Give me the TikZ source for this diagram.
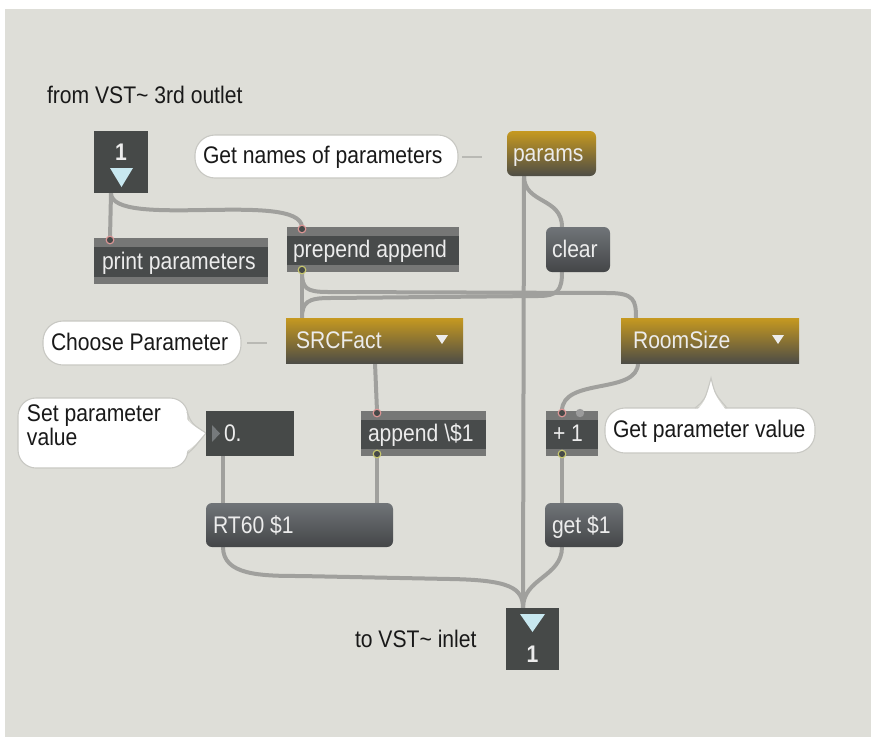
\documentclass[tikz,border=0pt]{standalone}
\usepackage{fontspec}
\setmainfont{Liberation Sans}[FakeStretch=0.88]
\usetikzlibrary{calc}
\definecolor{bgc}{RGB}{222,222,216}
\definecolor{cordc}{RGB}{160,160,157}
\definecolor{objdark}{RGB}{72,75,75}
\definecolor{band}{RGB}{118,119,118}
\definecolor{gold}{RGB}{198,153,32}
\definecolor{golddark}{RGB}{78,77,70}
\definecolor{msgtop}{RGB}{112,116,120}
\definecolor{msgbot}{RGB}{68,70,72}
\definecolor{iodark}{RGB}{70,73,72}
\definecolor{tri}{RGB}{200,232,240}
\definecolor{txtw}{RGB}{236,236,236}
\definecolor{bubline}{RGB}{200,200,195}
\definecolor{inpink}{RGB}{222,150,150}
\definecolor{outyel}{RGB}{200,200,110}
\definecolor{ptrc}{RGB}{185,185,180}
\definecolor{numtri}{RGB}{118,122,124}
\definecolor{inbump}{RGB}{155,155,155}
\definecolor{txtb}{RGB}{25,25,25}
\newcommand\lbx[3]{\makebox[#1pt][l]{\hspace*{#2pt}#3}}
\pgfdeclarelayer{back}
\pgfdeclarelayer{cords}
\pgfsetlayers{back,cords,main}
\begin{document}
\begin{tikzpicture}[x=1pt,y=-1pt,
  every node/.style={font=\fontsize{24}{28}\selectfont, inner sep=0pt, outer sep=0pt},
  bx/.style={text height=16pt, text depth=0pt, anchor=north west, text=txtw},
  objb/.style={bx, fill=band, minimum height=45pt,
    path picture={\fill[objdark] ([yshift=-9pt]path picture bounding box.north west) rectangle ([yshift=7pt]path picture bounding box.south east);}},
  msgb/.style={bx, rounded corners=6pt, top color=msgtop, bottom color=msgbot},
  goldb/.style={bx, rounded corners=6pt, top color=gold, bottom color=golddark},
  menub/.style={bx, minimum height=45pt, top color=gold, bottom color=golddark},
  iobox/.style={anchor=north west, fill=iodark, text=txtw, minimum width=#1},
  bub/.style={anchor=north west, fill=white, draw=bubline, line width=1.1pt, rounded corners=20pt, text=txtb, text height=14pt, text depth=0pt},
  cmt/.style={anchor=base west, text=txtb},
  cord/.style={draw=cordc, line width=4pt},
  ptr/.style={draw=ptrc, line width=2pt},
  inring/.style={draw=inpink, fill=iodark, line width=1.1pt},
  outring/.style={draw=outyel, fill=iodark, line width=1.1pt}
]
\useasboundingbox (0,0) rectangle (871,737);
\begin{pgfonlayer}{back}
\fill[bgc] (5,9) rectangle (871,737);
\end{pgfonlayer}

% comments
\node[cmt] (fromt) at (47,103) {from VST\textasciitilde{} 3rd outlet};
\node[cmt] (tot) at (355,647) {to VST\textasciitilde{} inlet};

% inlet / outlet boxes
\node[iobox=54pt, text height=29pt, text depth=33pt] (inl) at (94,131) {\bfseries 1};
\fill[tri] ([shift={(16,37)}]inl.north west) -- ([shift={(39,37)}]inl.north west) -- ([shift={(27.5,56)}]inl.north west) -- cycle;
\node[iobox=53pt, text height=54pt, text depth=8pt] (outl) at (506,608) {\bfseries 1};
\fill[tri] ([shift={(14,6)}]outl.north west) -- ([shift={(39,6)}]outl.north west) -- ([shift={(26.5,24)}]outl.north west) -- cycle;

% bubbles
\node[bub, minimum height=43pt] (gnm) at (195,135) {\lbx{263}{8}{Get names of parameters}};
\node[bub, minimum height=44pt] (chs) at (43,321) {\lbx{198}{8}{Choose Parameter}};
\node[bub, minimum height=45pt] (gpv) at (605,408) {\lbx{210}{8}{Get parameter value}};
\node[bub, minimum height=70pt, rounded corners=18pt, text height=0pt, text depth=0pt] (spv) at (18,398)
  {\lbx{170}{9}{\rlap{\raisebox{12pt}{Set parameter}}\raisebox{-12pt}{value}}};
% bubble tails
\fill[white] ([shift={(-6,14)}]spv.north east) .. controls ([shift={(2,26)}]spv.north east) .. (206,433)
  .. controls ([shift={(4,-20)}]spv.south east) .. ([shift={(-6,-14)}]spv.south east) -- cycle;
\draw[bubline, line width=1.1pt] ([shift={(-1,14)}]spv.north east) .. controls ([shift={(4,26)}]spv.north east) .. (206,433)
  .. controls ([shift={(6,-20)}]spv.south east) .. ([shift={(-1,-14)}]spv.south east);
\fill[white] ([shift={(88,6)}]gpv.north west) .. controls ([shift={(100,-6)}]gpv.north west) .. (711,378)
  .. controls ([shift={(110,-12)}]gpv.north west) .. ([shift={(124,6)}]gpv.north west) -- cycle;
\draw[bubline, line width=1.1pt] ([shift={(90,0)}]gpv.north west) .. controls ([shift={(100,-8)}]gpv.north west) .. (711,378)
  .. controls ([shift={(110,-14)}]gpv.north west) .. ([shift={(122,0)}]gpv.north west);

% objects
\node[goldb, minimum height=45pt] (prm) at (507,131) {\lbx{89}{6}{params}};
\node[msgb, minimum height=45pt] (clr) at (546,227) {\lbx{64}{6}{clear}};
\node[objb, minimum height=46pt] (prt) at (94,238) {\lbx{174}{8}{print parameters}};
\node[objb] (ppd) at (287,227) {\lbx{172}{6}{prepend append}};
\node[menub] (src) at (286,318) {\lbx{177}{10}{SRCFact}};
\node[menub] (rms) at (621,318) {\lbx{178}{12}{RoomSize}};
\fill[txtw] ([shift={(-27,17)}]src.north east) -- ([shift={(-15,17)}]src.north east) -- ([shift={(-21,26)}]src.north east) -- cycle;
\fill[txtw] ([shift={(-27,17)}]rms.north east) -- ([shift={(-15,17)}]rms.north east) -- ([shift={(-21,26)}]rms.north east) -- cycle;
\node[bx, fill=iodark, minimum height=45pt] (num) at (206,411) {\lbx{88}{18}{0.}};
\fill[numtri] ([shift={(6,14)}]num.north west) -- ([shift={(14,22.5)}]num.north west) -- ([shift={(6,31)}]num.north west) -- cycle;
\node[objb] (apd) at (361,411) {\lbx{125}{7}{append \textbackslash\$1}};
\node[objb] (pl1) at (546,411) {\lbx{52}{7}{+ 1}};
\node[msgb, minimum height=44pt] (rt) at (206,503) {\lbx{187}{7}{RT60 \$1}};
\node[msgb, minimum height=44pt] (get) at (545,503) {\lbx{78}{7}{get \$1}};

% ports
\coordinate (inlO) at ([xshift=17pt]inl.south west);
\coordinate (outlI) at ([xshift=17pt]outl.north west);
\coordinate (prmO) at ([xshift=17pt]prm.south west);
\coordinate (clrI) at ([xshift=16pt]clr.north west);
\coordinate (clrO) at ([xshift=16pt]clr.south west);
\coordinate (prtI) at ([xshift=16pt]prt.north west);
\coordinate (ppdI) at ([xshift=15pt]ppd.north west);
\coordinate (ppdO) at ([xshift=15pt]ppd.south west);
\coordinate (srcI) at ([xshift=16pt]src.north west);
\coordinate (srcO) at ([xshift=89pt]src.south west);
\coordinate (rmsI) at ([xshift=15pt]rms.north west);
\coordinate (rmsO) at ([xshift=17pt]rms.south west);
\coordinate (numO) at ([xshift=17pt]num.south west);
\coordinate (apdI) at ([xshift=16pt]apd.north west);
\coordinate (apdO) at ([xshift=16pt]apd.south west);
\coordinate (pl1I) at ([xshift=16pt]pl1.north west);
\coordinate (pl1O) at ([xshift=16pt]pl1.south west);
\coordinate (pl1R) at ([xshift=34pt]pl1.north west);
\coordinate (rtI) at ([xshift=17pt]rt.north west);
\coordinate (rtI2) at ([xshift=171pt]rt.north west);
\coordinate (rtO) at ([xshift=17pt]rt.south west);
\coordinate (getI) at ([xshift=17pt]get.north west);
\coordinate (getO) at ([xshift=17pt]get.south west);
\coordinate (gnmP) at ([xshift=-25pt]prm.west |- gnm.east);
\coordinate (chsP) at ([xshift=-19pt]src.west |- chs.east);

% cords
\begin{pgfonlayer}{cords}
\draw[ptr] ([xshift=4pt]gnm.east) -- (gnmP);
\draw[ptr] ([xshift=6pt]chs.east) -- (chsP);
\draw[cord] (inlO) -- (prtI);
\draw[cord] (inlO) .. controls +(0,37) and +(-2,-37) .. (ppdI);
\draw[cord] (prmO) -- (outlI);
\draw[cord] (prmO) .. controls +(0,28) and +(0,-30) .. (clrI);
\draw[cord] (ppdO) -- (srcI);
\draw[cord] (ppdO) .. controls +(0,16) and +(-22,0) .. (328,292) -- (608,293) .. controls +(26,0) and +(0,-18) .. (rmsI);
\draw[cord] (clrO) .. controls +(0,18) and +(20,0) .. (538,296) -- (330,298) .. controls +(-22,0) and +(0,-16) .. (srcI);
\draw[cord] (srcO) -- (apdI);
\draw[cord] (rmsO) .. controls +(0,32) and +(0,-34) .. (pl1I);
\draw[cord] (numO) -- (rtI);
\draw[cord] (apdO) -- (rtI2);
\draw[cord] (pl1O) -- (getI);
\draw[cord] (rtO) .. controls +(0,28) and +(-40,0) .. (300,576) -- (450,579) .. controls +(60,1) and +(0,-20) .. (outlI);
\draw[cord] (getO) .. controls +(0,30) and +(0,-30) .. (outlI);
\end{pgfonlayer}

% inlet / outlet rings
\draw[inring] ([yshift=-2pt]prtI) circle (3.8pt);
\draw[inring] ([yshift=-2pt]ppdI) circle (3.8pt);
\draw[outring] ([yshift=2pt]ppdO) circle (3.8pt);
\draw[inring] ([yshift=-2pt]apdI) circle (3.8pt);
\draw[outring] ([yshift=2pt]apdO) circle (3.8pt);
\draw[inring] ([yshift=-2pt]pl1I) circle (3.8pt);
\fill[inbump] ([yshift=-2pt]pl1R) circle (4.2pt);
\draw[outring] ([yshift=2pt]pl1O) circle (3.8pt);
\end{tikzpicture}
\end{document}
